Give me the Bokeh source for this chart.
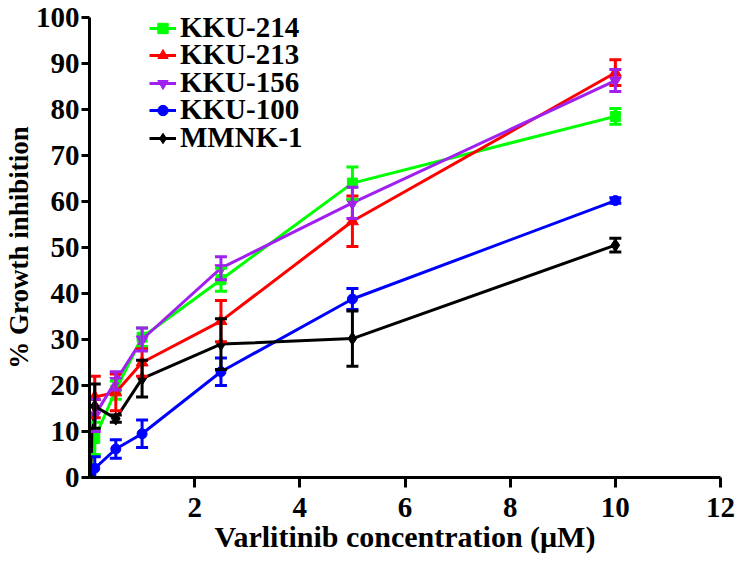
from bokeh.plotting import figure
from bokeh.models import (ColumnDataSource, Range1d, FixedTicker, Whisker, TeeHead,
                          Legend, LegendItem)
from bokeh.embed import file_html
from bokeh.resources import INLINE

# ---- data ----
conc = [0, 0.1, 0.5, 1, 2.5, 5, 10]
series_names = ["KKU-214", "KKU-213", "KKU-156", "KKU-100", "MMNK-1"]
kku214 = [0, 8.5, 19.0, 30.5, 43.0, 64.0, 78.5]
kku214_err = [0, 3.5, 2.0, 2.0, 2.5, 3.5, 1.7]
kku213 = [0, 17.5, 18.5, 25.0, 34.0, 55.7, 88.0]
kku213_err = [0, 4.5, 4.0, 3.0, 4.5, 5.5, 2.8]
kku156 = [0, 13.5, 21.0, 30.0, 45.5, 59.7, 86.3]
kku156_err = [0, 3.5, 2.0, 2.5, 2.5, 3.4, 2.4]
kku100 = [0, 2.0, 6.2, 9.5, 23.0, 38.8, 60.2]
kku100_err = [0, 2.5, 2.0, 3.0, 3.0, 2.3, 0.6]
mmnk1 = [0, 15.5, 12.8, 21.5, 29.0, 30.2, 50.5]
mmnk1_err = [0, 4.8, 0.8, 4.0, 5.5, 6.0, 1.5]
x_ticks = [2, 4, 6, 8, 10, 12]
y_ticks = [0, 10, 20, 30, 40, 50, 60, 70, 80, 90, 100]

values = [kku214, kku213, kku156, kku100, mmnk1]
errors = [kku214_err, kku213_err, kku156_err, kku100_err, mmnk1_err]
colors = ["#00FF00", "#FF0000", "#A020F0", "#0000FF", "#000000"]
markers = ["square", "triangle", "inverted_triangle", "circle", "diamond"]
msizes = [10, 12, 12, 10, 13]

FONT = "Liberation Serif"

p = figure(width=735, height=565, output_backend="svg", toolbar_location=None,
           x_range=Range1d(0, 12), y_range=Range1d(0, 100),
           min_border_left=85, min_border_right=15, min_border_top=17, min_border_bottom=88)
p.outline_line_color = None
p.xgrid.visible = False
p.ygrid.visible = False
p.background_fill_color = "white"
p.border_fill_color = "white"

for ax in (p.xaxis, p.yaxis):
    ax.axis_line_width = 3
    ax.axis_line_color = "black"
    ax.major_tick_line_width = 3
    ax.major_tick_line_color = "black"
    ax.major_tick_in = 0
    ax.minor_tick_line_color = None
    ax.major_label_text_font = FONT
    ax.major_label_text_font_style = "bold"
    ax.major_label_text_color = "black"
    ax.major_label_text_font_size = "29px"
    ax.axis_label_text_font = FONT
    ax.axis_label_text_font_style = "bold"
    ax.axis_label_text_color = "black"

p.xaxis.ticker = FixedTicker(ticks=x_ticks)
p.yaxis.ticker = FixedTicker(ticks=y_ticks)
p.xaxis.major_tick_out = 10
p.yaxis.major_tick_out = 8
p.xaxis.major_label_standoff = 10
p.yaxis.major_label_standoff = 2

p.xaxis.axis_label = "Varlitinib concentration (\u03bcM)"
p.xaxis.axis_label_text_font_size = "30px"
p.xaxis.axis_label_standoff = 0

p.yaxis.axis_label = "% Growth inhibition"
p.yaxis.axis_label_text_font_size = "27px"
p.yaxis.axis_label_standoff = -1

# legend rows: one small legend per series so the row pitch can match the reference
ROW0_BOTTOM = 433   # px above frame bottom for the first row's legend box
ROW_PITCH = 27.4

for i, (name, vals, errs, col, mk, ms) in enumerate(
        zip(series_names, values, errors, colors, markers, msizes)):
    src = ColumnDataSource(dict(x=conc, y=vals,
                                lower=[v - e for v, e in zip(vals, errs)],
                                upper=[v + e for v, e in zip(vals, errs)]))
    ln = p.line("x", "y", source=src, line_color=col, line_width=3)
    wh = Whisker(base="x", lower="lower", upper="upper", source=src,
                 line_color=col, line_width=3, level="glyph",
                 upper_head=TeeHead(size=12, line_color=col, line_width=3),
                 lower_head=TeeHead(size=12, line_color=col, line_width=3))
    p.add_layout(wh)
    sc = p.scatter("x", "y", source=src, marker=mk, size=ms,
                   fill_color=col, line_color=col)
    leg = Legend(items=[LegendItem(label=name, renderers=[ln, sc])],
                 location=(60, round(ROW0_BOTTOM - i * ROW_PITCH)),
                 padding=0, margin=0, spacing=0,
                 label_height=26, glyph_height=26, glyph_width=27, label_standoff=4,
                 label_text_font=FONT, label_text_font_style="bold",
                 label_text_font_size="29px", label_text_color="black",
                 border_line_color=None, background_fill_alpha=0)
    p.add_layout(leg)

open("out.html", "w").write(file_html(p, INLINE))
